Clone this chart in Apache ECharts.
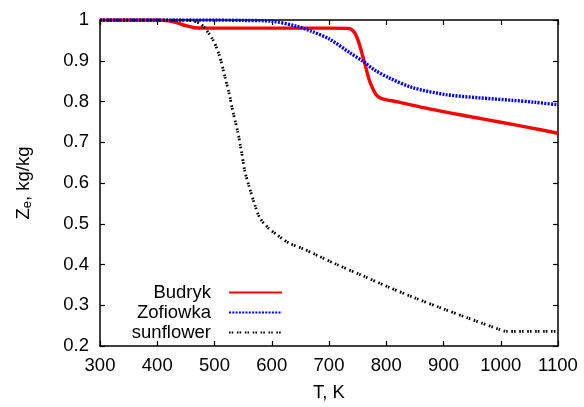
<!DOCTYPE html>
<html>
<head>
<meta charset="utf-8">
<script src="https://cdn.jsdelivr.net/npm/echarts@6/dist/echarts.min.js"></script>
<style>
html,body{margin:0;padding:0;background:#fff;}
#c{width:584px;height:407px;}
</style>
</head>
<body>
<div id="c"></div>
<script>
var xTicks = [300, 400, 500, 600, 700, 800, 900, 1000, 1100];
var yTicks = [0.2, 0.3, 0.4, 0.5, 0.6, 0.7, 0.8, 0.9, 1];

var budrykT = [300, 400, 420, 435, 450, 465, 480, 500, 600, 700, 735, 745, 752, 759, 765, 770, 776, 782, 788, 795, 820, 875, 950, 1000, 1050, 1100];
var budrykZ = [1, 1, 0.998, 0.993, 0.986, 0.981, 0.98, 0.98, 0.98, 0.98, 0.979, 0.968, 0.945, 0.911, 0.88, 0.854, 0.833, 0.817, 0.81, 0.806, 0.799, 0.782, 0.762, 0.749, 0.736, 0.722];

var zofiT = [300, 500, 550, 600, 643, 670, 701, 736, 759, 780, 805, 846, 904, 962, 1020, 1060, 1100];
var zofiZ = [1, 1, 0.999, 0.997, 0.985, 0.972, 0.953, 0.92, 0.899, 0.877, 0.858, 0.834, 0.817, 0.809, 0.803, 0.798, 0.792];

var sunT = [300, 440, 460, 477, 497, 509, 518, 526, 532, 541, 547, 553, 561, 570, 579, 593, 608, 631, 654, 680, 712, 758, 805, 850, 898, 944, 997, 1010, 1100];
var sunZ = [1, 1, 0.998, 0.989, 0.952, 0.911, 0.862, 0.817, 0.776, 0.723, 0.678, 0.629, 0.589, 0.548, 0.515, 0.491, 0.474, 0.452, 0.439, 0.422, 0.401, 0.373, 0.344, 0.318, 0.292, 0.268, 0.241, 0.236, 0.236];

function pairs(xs, ys) { return xs.map(function (x, i) { return [x, ys[i]]; }); }

var font = 'Liberation Sans';
var fs = 18.5;
var chart = echarts.init(document.getElementById('c'), null, {renderer: 'canvas'});

var axisLine = {show: true, lineStyle: {color: '#000', width: 1.5}};
var tick = {show: true, inside: true, length: 5, lineStyle: {color: '#000', width: 1.2}};

function legendFor(name, top) {
  return {
    data: [name],
    right: 301,
    top: top,
    align: 'right',
    itemWidth: 53,
    itemHeight: 14,
    itemGap: 0,
    padding: 0,
    itemStyle: {opacity: 0, borderWidth: 0},
    textStyle: {fontFamily: font, fontSize: fs, color: '#000', padding: [0, 13, 0, 0]},
    selectedMode: false
  };
}

chart.setOption({
  animation: false,
  backgroundColor: '#fff',
  textStyle: {fontFamily: font},
  grid: {left: 100, right: 26, top: 20, bottom: 60},
  legend: [legendFor('Budryk', 283), legendFor('Zofiowka', 303), legendFor('sunflower', 323)],
  xAxis: [{
    type: 'value', min: xTicks[0], max: xTicks[xTicks.length - 1], interval: 100,
    name: 'T, K', nameLocation: 'middle', nameGap: 37,
    nameTextStyle: {fontFamily: font, fontSize: fs, color: '#000'},
    axisLine: axisLine, axisTick: tick, splitLine: {show: false},
    axisLabel: {fontFamily: font, fontSize: fs, color: '#000', margin: 10,
      formatter: function (v) { return String(v); }}
  }, {
    type: 'value', position: 'top', min: xTicks[0], max: xTicks[xTicks.length - 1], interval: 100,
    axisLine: axisLine, axisTick: tick, splitLine: {show: false}, axisLabel: {show: false}
  }],
  yAxis: [{
    type: 'value', min: yTicks[0], max: yTicks[yTicks.length - 1], interval: 0.1,
    name: '{a|Z}{s|e}{a|, kg/kg}', nameLocation: 'middle', nameGap: 66, nameRotate: 90,
    nameTextStyle: {
      color: '#000',
      rich: {
        a: {fontFamily: font, fontSize: fs, color: '#000'},
        s: {fontFamily: font, fontSize: 13, color: '#000', verticalAlign: 'bottom', padding: [8, 0, 0, 0]}
      }
    },
    axisLine: axisLine, axisTick: tick, splitLine: {show: false},
    axisLabel: {fontFamily: font, fontSize: fs, color: '#000', margin: 11,
      formatter: function (v) { return String(Math.round(v * 10) / 10); }}
  }, {
    type: 'value', position: 'right', min: yTicks[0], max: yTicks[yTicks.length - 1], interval: 0.1,
    axisLine: axisLine, axisTick: tick, splitLine: {show: false}, axisLabel: {show: false}
  }],
  series: [{
    name: 'Budryk', type: 'line', symbol: 'none', smooth: 0.3,
    data: pairs(budrykT, budrykZ),
    itemStyle: {color: '#ff0000'},
    lineStyle: {color: '#ff0000', width: 3.4, type: 'solid'}, z: 3
  }, {
    name: 'Zofiowka', type: 'line', symbol: 'none', smooth: 0.3,
    data: pairs(zofiT, zofiZ),
    itemStyle: {color: '#0000ff'},
    lineStyle: {color: '#0000ff', width: 3.4, type: [2, 1.3]}, z: 4
  }, {
    name: 'sunflower', type: 'line', symbol: 'none', smooth: 0.3,
    data: pairs(sunT, sunZ),
    itemStyle: {color: '#000'},
    lineStyle: {color: '#000', width: 2.8, type: [1.6, 1.1, 1.6, 3.6]}, z: 5
  }]
});
</script>
</body>
</html>
